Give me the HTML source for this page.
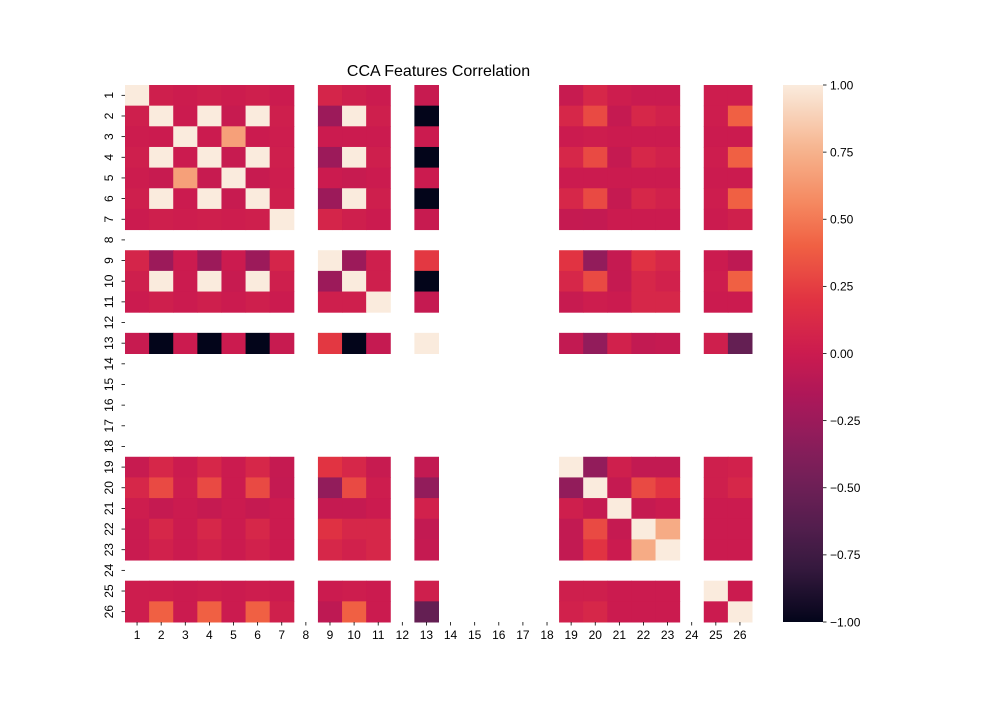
<!DOCTYPE html>
<html><head><meta charset="utf-8"><style>
body{margin:0;background:#fff;font-family:"Liberation Sans","DejaVu Sans",sans-serif}
</style></head><body>
<svg id="chart" width="1000" height="700" xmlns="http://www.w3.org/2000/svg" font-family="Liberation Sans, DejaVu Sans, sans-serif"></svg>
<script>
const labels = ["1","2","3","4","5","6","7","8","9","10","11","12","13","14","15","16","17","18","19","20","21","22","23","24","25","26"];
const validFeatures = [1,2,3,4,5,6,7,9,10,11,13,19,20,21,22,23,25,26];
const defaultCorr = 0.01;
const pairs = [
[1,2,0.03],[1,3,0.01],[1,4,0.03],[1,5,0.01],[1,6,0.03],[1,7,0.0],[1,9,0.08],[1,10,0.03],[1,11,0.0],[1,13,-0.02],[1,19,-0.02],[1,20,0.1],[1,21,0.02],[1,22,-0.01],[1,23,-0.01],[1,25,0.02],[1,26,0.02],
[2,4,1],[2,6,1],[4,6,1],[2,10,1],[4,10,1],[6,10,1],
[2,3,0.0],[4,3,0.0],[6,3,0.0],[10,3,0.0],[2,5,-0.02],[4,5,-0.02],[6,5,-0.02],[10,5,-0.02],
[2,7,0.03],[4,7,0.03],[6,7,0.03],[10,7,0.03],[2,11,0.03],[4,11,0.03],[6,11,0.03],[10,11,0.03],
[2,9,-0.25],[4,9,-0.25],[6,9,-0.25],[10,9,-0.25],[2,13,-1],[4,13,-1],[6,13,-1],[10,13,-1],
[2,19,0.1],[4,19,0.1],[6,19,0.1],[10,19,0.1],[2,20,0.3],[4,20,0.3],[6,20,0.3],[10,20,0.3],
[2,21,-0.03],[4,21,-0.03],[6,21,-0.03],[10,21,-0.03],[2,22,0.1],[4,22,0.1],[6,22,0.1],[10,22,0.1],
[2,23,0.05],[4,23,0.05],[6,23,0.05],[10,23,0.05],[2,25,0.02],[4,25,0.02],[6,25,0.02],[10,25,0.02],
[2,26,0.4],[4,26,0.4],[6,26,0.4],[10,26,0.4],
[3,5,0.67],[3,7,0.02],[3,9,0.0],[3,11,0.0],[3,13,0.0],[3,19,0.0],[3,20,0.02],[3,21,0.0],[3,22,0.0],[3,23,0.0],[3,25,0.0],[3,26,0.0],
[5,7,0.02],[5,9,0.0],[5,11,0.0],[5,13,0.0],[5,19,0.0],[5,20,0.0],[5,21,0.0],[5,22,0.0],[5,23,0.0],[5,25,0.0],[5,26,0.0],
[7,9,0.08],[7,11,0.0],[7,13,-0.02],[7,19,-0.03],[7,20,-0.04],[7,21,0.0],[7,22,0.0],[7,23,0.0],[7,25,0.0],[7,26,0.04],
[9,11,0.03],[9,13,0.22],[9,19,0.2],[9,20,-0.3],[9,21,-0.03],[9,22,0.18],[9,23,0.1],[9,25,0.0],[9,26,-0.07],
[11,13,-0.03],[11,19,-0.02],[11,20,0.02],[11,21,0.0],[11,22,0.1],[11,23,0.1],[11,25,0.0],[11,26,0.0],
[13,19,-0.05],[13,20,-0.3],[13,21,0.05],[13,22,-0.05],[13,23,-0.03],[13,25,0.03],[13,26,-0.55],
[19,20,-0.3],[19,21,0.03],[19,22,-0.05],[19,23,-0.05],[19,25,0.03],[19,26,0.05],
[20,21,-0.03],[20,22,0.3],[20,23,0.2],[20,25,0.03],[20,26,0.1],
[21,22,-0.03],[21,23,0.0],[21,25,0.0],[21,26,0.0],
[22,23,0.72],[22,25,0.0],[22,26,0.0],[23,25,0.0],[23,26,0.0],[25,26,0.0]
];
const cbTicks = [1,0.75,0.5,0.25,0,-0.25,-0.5,-0.75,-1];
const cbTickLabels = ["1.00","0.75","0.50","0.25","0.00","\u22120.25","\u22120.50","\u22120.75","\u22121.00"];

const stopHex = ["#03051a","#35193e","#541e4e","#701f57","#8e1d5b","#ad1759","#cb1b4f","#e13342","#f06043","#f58860","#f6b48e","#faebdd"];
const stopPos = [0,0.1,0.18,0.26,0.34,0.42,0.5,0.6,0.7,0.78,0.88,1];
const stops = stopHex.map(h=>[1,3,5].map(o=>parseInt(h.substr(o,2),16)));
function cmap(v){let t=(v+1)/2;t=Math.max(0,Math.min(1,t));let i=0;while(i<stops.length-2&&t>stopPos[i+1])i++;
const f=(t-stopPos[i])/(stopPos[i+1]-stopPos[i]);const a=stops[i],b=stops[i+1];
return `rgb(${a.map((c,k)=>Math.round(c+(b[k]-c)*f)).join(',')})`;}
const n=labels.length;
const M=[];for(let i=0;i<n;i++){M.push(new Array(n).fill(null));}
validFeatures.forEach(a=>validFeatures.forEach(b=>{M[a-1][b-1]=a===b?1:defaultCorr;}));
pairs.forEach(([a,b,v])=>{M[a-1][b-1]=v;M[b-1][a-1]=v;});
const L=125,R=752,T=85,B=622;const cw=(R-L)/n,ch=(B-T)/n;
const xs=i=>L+i*cw, ys=i=>T+i*ch;
const svg=document.getElementById('chart');const NS='http://www.w3.org/2000/svg';
function mk(tag,attrs,parent){const e=document.createElementNS(NS,tag);for(const k in attrs)e.setAttribute(k,attrs[k]);(parent||svg).appendChild(e);return e;}
const cells=mk('g',{});


for(let i=0;i<n;i++)for(let j=0;j<n;j++){const v=M[i][j];if(v===null)continue;
const r=mk('rect',{x:xs(j),y:ys(i),width:cw+0.5,height:ch+0.5,fill:cmap(v)},cells);

}
const t=mk('text',{x:(L+R)/2,y:76,'text-anchor':'middle','font-size':16,fill:'#000'});t.textContent='CCA Features Correlation';


const xa=mk('g',{});


const ya=mk('g',{});


labels.forEach((lb,i)=>{const cx=xs(i)+cw/2;mk('line',{x1:cx,x2:cx,y1:B,y2:B+3.5,stroke:'#000','stroke-width':0.8},xa);
const tx=mk('text',{x:cx,y:B+17,'text-anchor':'middle','font-size':12},xa);tx.textContent=lb;


const cy=ys(i)+ch/2;mk('line',{x1:L-3.5,x2:L,y1:cy,y2:cy,stroke:'#000','stroke-width':0.8},ya);
const ty=mk('text',{x:L-12,y:cy,'text-anchor':'middle','font-size':12,transform:`rotate(-90 ${L-12} ${cy})`},ya);ty.textContent=lb;

});
const cb=mk('g',{});


const CL=783,CR=823,CT=85,CB=622;const cy2=v=>CB-(v+1)/2*(CB-CT);
const defs=mk('defs',{});const g=mk('linearGradient',{id:'gr',x1:0,y1:1,x2:0,y2:0},defs);
for(let k=0;k<=40;k++){const v=-1+k/20;mk('stop',{offset:k/40,'stop-color':cmap(v)},g);}
mk('rect',{x:CL,y:CT,width:CR-CL,height:CB-CT,fill:'url(#gr)'},cb);
cbTicks.forEach((v,k)=>{const y=cy2(v);mk('line',{x1:CR,x2:CR+3.5,y1:y,y2:y,stroke:'#000','stroke-width':0.8},cb);
const tx=mk('text',{x:CR+7,y:y+4.3,'font-size':12},cb);tx.textContent=cbTickLabels[k];

});
</script>
</body></html>
